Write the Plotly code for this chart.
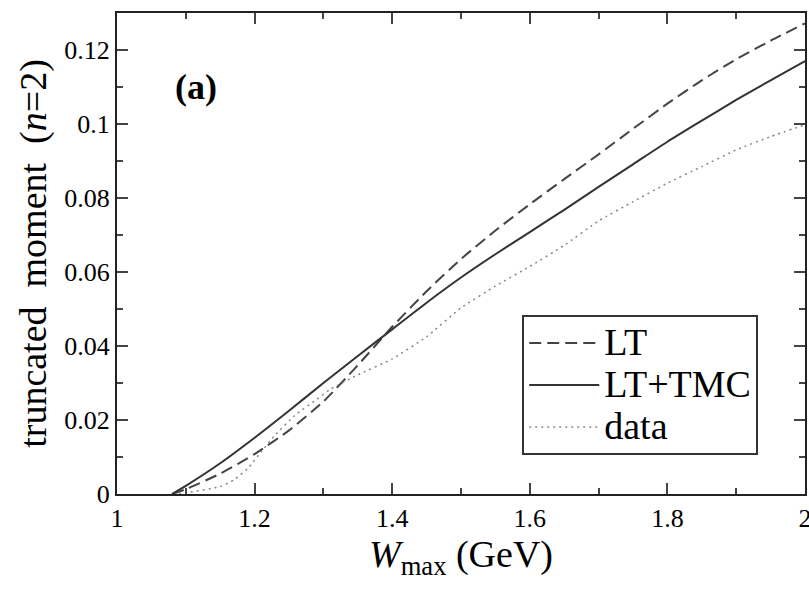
import plotly.graph_objects as go

# LT (dashed)
lt_x = [1.08, 1.10, 1.15, 1.20, 1.25, 1.30, 1.35, 1.40, 1.45, 1.50, 1.55, 1.60,
        1.65, 1.70, 1.75, 1.80, 1.85, 1.90, 1.95, 2.00]
lt_y = [0.0, 0.0013, 0.0055, 0.0108, 0.0172, 0.0250, 0.0348, 0.0452, 0.0548, 0.0635,
        0.0712, 0.0783, 0.0851, 0.0918, 0.0987, 0.1055, 0.1118, 0.1175, 0.1225, 0.1272]

# LT+TMC (solid)
tmc_x = [1.08, 1.10, 1.15, 1.20, 1.25, 1.30, 1.35, 1.40, 1.45, 1.50, 1.55, 1.60,
         1.65, 1.70, 1.75, 1.80, 1.85, 1.90, 1.95, 2.00]
tmc_y = [0.0, 0.0022, 0.0083, 0.0152, 0.0225, 0.0300, 0.0373, 0.0445, 0.0517, 0.0585,
         0.0648, 0.0708, 0.0768, 0.0830, 0.0891, 0.0952, 0.1009, 0.1065, 0.1118, 0.1170]

# data (dotted)
dat_x = [1.09, 1.10, 1.15, 1.17, 1.19, 1.21, 1.23, 1.26, 1.29, 1.31, 1.35, 1.40,
         1.45, 1.50, 1.55, 1.60, 1.65, 1.70, 1.75, 1.80, 1.85, 1.90, 1.95, 2.00]
dat_y = [0.0, 0.0003, 0.0020, 0.0038, 0.0069, 0.0115, 0.0160, 0.0215, 0.0255, 0.0283,
         0.0322, 0.0365, 0.0425, 0.0503, 0.0562, 0.0615, 0.0672, 0.0738, 0.0790, 0.0840,
         0.0885, 0.0930, 0.0966, 0.0998]

FONT = "Times New Roman, Liberation Serif, Tinos, serif"

fig = go.Figure()
fig.add_trace(go.Scatter(x=lt_x, y=lt_y, mode="lines",
                         name='<span style="font-size:38px">LT</span>',
                         line=dict(color="#444444", width=2, dash="12px,6px"),
                         line_shape="spline", line_smoothing=0.6))
fig.add_trace(go.Scatter(x=tmc_x, y=tmc_y, mode="lines",
                         name='<span style="font-size:38px">LT+TMC</span>',
                         line=dict(color="#333333", width=2),
                         line_shape="spline", line_smoothing=0.6))
fig.add_trace(go.Scatter(x=dat_x, y=dat_y, mode="lines",
                         name='<span style="font-size:38px">data</span>',
                         line=dict(color="#888888", width=1.5, dash="2px,4px"),
                         line_shape="spline", line_smoothing=0.4))

axis_common = dict(
    showgrid=False, zeroline=False, showline=True, linecolor="#222222", linewidth=2,
    mirror="allticks", ticks="inside", ticklen=11, tickwidth=1.5, tickcolor="#444444",
    tickfont=dict(family=FONT, size=26, color="black"), automargin=False,
)

fig.update_xaxes(range=[1, 2.00001], dtick=0.2, tick0=1, ticklabeloverflow="allow",
                 minor=dict(dtick=0.1, ticks="inside", ticklen=6, tickwidth=1.5, tickcolor="#444444"),
                 title=dict(text="<i>W</i><sub>max</sub> (GeV)", font=dict(family=FONT, size=38, color="black"),
                            standoff=8),
                 **axis_common)
fig.update_yaxes(range=[0, 0.13], dtick=0.02, tick0=0,
                 minor=dict(dtick=0.01, ticks="inside", ticklen=6, tickwidth=1.5, tickcolor="#444444"),
                 title=dict(text="truncated  moment  (<i>n</i>=2)", font=dict(family=FONT, size=38, color="black"),
                            standoff=6),
                 **axis_common)

fig.add_annotation(x=0.115, y=0.846, xref="paper", yref="paper", text="<b>(a)</b>",
                   showarrow=False, font=dict(family=FONT, size=36, color="black"),
                   xanchor="center", yanchor="middle")

fig.update_layout(
    width=809, height=589,
    margin=dict(l=117, r=4, t=13, b=95),
    paper_bgcolor="white", plot_bgcolor="white",
    showlegend=True,
    legend=dict(x=0.589, y=0.372, xanchor="left", yanchor="top",
                bgcolor="white", bordercolor="#333333", borderwidth=2,
                font=dict(family=FONT, size=30, color="black"),
                tracegroupgap=0, itemwidth=70),
)

fig.write_html("out.html")
